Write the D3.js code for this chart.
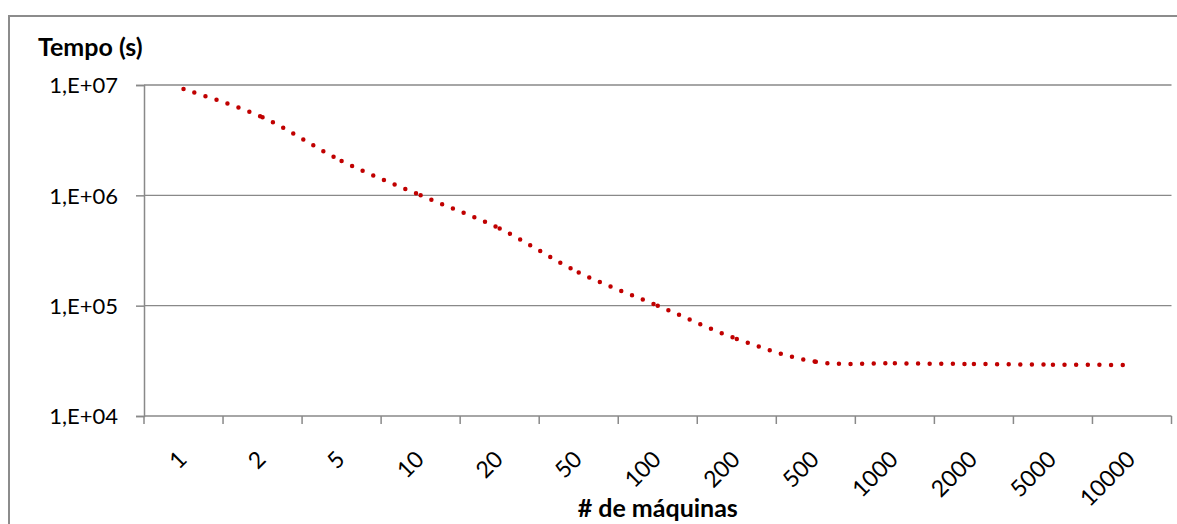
<!DOCTYPE html>
<html>
<head>
<meta charset="utf-8">
<script src="https://cdn.jsdelivr.net/npm/d3@7"></script>
<style>
  html, body { margin: 0; padding: 0; background: #fff; }
  svg { display: block; }
  text { font-family: Lato, "Open Sans", sans-serif; fill: #000; }
</style>
</head>
<body>
<svg id="chart" width="1177" height="524"></svg>
<script>
// Machine counts (categories) and measured run time in seconds
const machines = ["1", "2", "5", "10", "20", "50", "100", "200", "500", "1000", "2000", "5000", "10000"];
const tempo = [9.2e6, 5.1e6, 2.05e6, 1.0e6, 5.0e5, 2.0e5, 1.0e5, 5.0e4, 3.1e4, 3.0e4, 2.96e4, 2.92e4, 2.9e4];
const yTicks = [1e4, 1e5, 1e6, 1e7];
const yTickLabels = ["1,E+04", "1,E+05", "1,E+06", "1,E+07"];
const yTitle = "Tempo (s)";
const xTitle = "# de máquinas";

const svg = d3.select("#chart");
const W = 1177, H = 524;
const plot = { left: 144, right: 1171.5, top: 85, bottom: 416 };
const axisGray = "#898989";

// Outer chart frame (only top and left edges fall inside the view)
svg.append("path")
  .attr("d", `M9,${H} V16 H${W}`)
  .attr("fill", "none")
  .attr("stroke", "#8c8c8c")
  .attr("stroke-width", 2);

const x = d3.scaleBand().domain(machines).range([plot.left, plot.right]).padding(0);
const y = d3.scaleLog().domain([1e4, 1e7]).range([plot.bottom, plot.top]);

// Horizontal gridlines
svg.append("g").selectAll("line")
  .data(yTicks.slice(1))
  .join("line")
  .attr("x1", plot.left).attr("x2", plot.right)
  .attr("y1", d => y(d)).attr("y2", d => y(d))
  .attr("stroke", axisGray).attr("stroke-width", 1.4);

// Y axis
const yAxis = d3.axisLeft(y).tickValues(yTicks).tickSize(8)
  .tickFormat((d, i) => yTickLabels[i]);
const gy = svg.append("g").attr("transform", `translate(${plot.left},0)`).call(yAxis);
gy.select(".domain").attr("stroke", axisGray).attr("stroke-width", 1.5);
gy.selectAll(".tick line").attr("stroke", axisGray).attr("stroke-width", 1.5);
gy.selectAll(".tick text")
  .attr("x", -26)
  .attr("dy", "0.36em")
  .style("font-size", "22px")
  .style("font-family", "Lato, sans-serif")
  .attr("fill", "#000");

// X axis: ticks sit on the category boundaries
const bounds = machines.map(m => x(m)).concat([plot.right]);
const gx = svg.append("g");
gx.append("line")
  .attr("x1", plot.left).attr("x2", plot.right)
  .attr("y1", plot.bottom).attr("y2", plot.bottom)
  .attr("stroke", axisGray).attr("stroke-width", 1.5);
gx.selectAll("line.tick")
  .data(bounds)
  .join("line")
  .attr("class", "tick")
  .attr("x1", d => d).attr("x2", d => d)
  .attr("y1", plot.bottom).attr("y2", plot.bottom + 8)
  .attr("stroke", axisGray).attr("stroke-width", 1.5);
gx.selectAll("text")
  .data(machines)
  .join("text")
  .attr("transform", d => `translate(${x(d) + x.bandwidth() / 2 - 1},${plot.bottom + 39}) rotate(-45)`)
  .attr("text-anchor", "end")
  .attr("dy", "0.35em")
  .style("font-size", "23px")
  .text(d => d);

// Axis titles
svg.append("text")
  .attr("x", 38).attr("y", 56)
  .style("font-size", "25px").style("font-weight", "bold")
  .text(yTitle);
svg.append("text")
  .attr("x", (plot.left + plot.right) / 2).attr("y", 517)
  .attr("text-anchor", "middle")
  .style("font-size", "25px").style("font-weight", "bold")
  .text(xTitle);

// Smoothed series, drawn segment by segment so each dotted run restarts at a data point
const pts = tempo.map((v, i) => [x(machines[i]) + x.bandwidth() / 2, y(v)]);
const segs = d3.range(pts.length - 1).map(i => {
  const p0 = pts[Math.max(0, i - 1)], p1 = pts[i], p2 = pts[i + 1], p3 = pts[Math.min(pts.length - 1, i + 2)];
  const p = d3.path();
  p.moveTo(p1[0], p1[1]);
  p.bezierCurveTo(
    p1[0] + (p2[0] - p0[0]) / 6, p1[1] + (p2[1] - p0[1]) / 6,
    p2[0] - (p3[0] - p1[0]) / 6, p2[1] - (p3[1] - p1[1]) / 6,
    p2[0], p2[1]);
  return p.toString();
});
svg.append("g").selectAll("path")
  .data(segs)
  .join("path")
  .attr("d", d => d)
  .attr("fill", "none")
  .attr("stroke", "#C00000")
  .attr("stroke-width", 4.5)
  .attr("stroke-linecap", "round")
  .attr("stroke-dasharray", "0 11.6");
</script>
</body>
</html>
